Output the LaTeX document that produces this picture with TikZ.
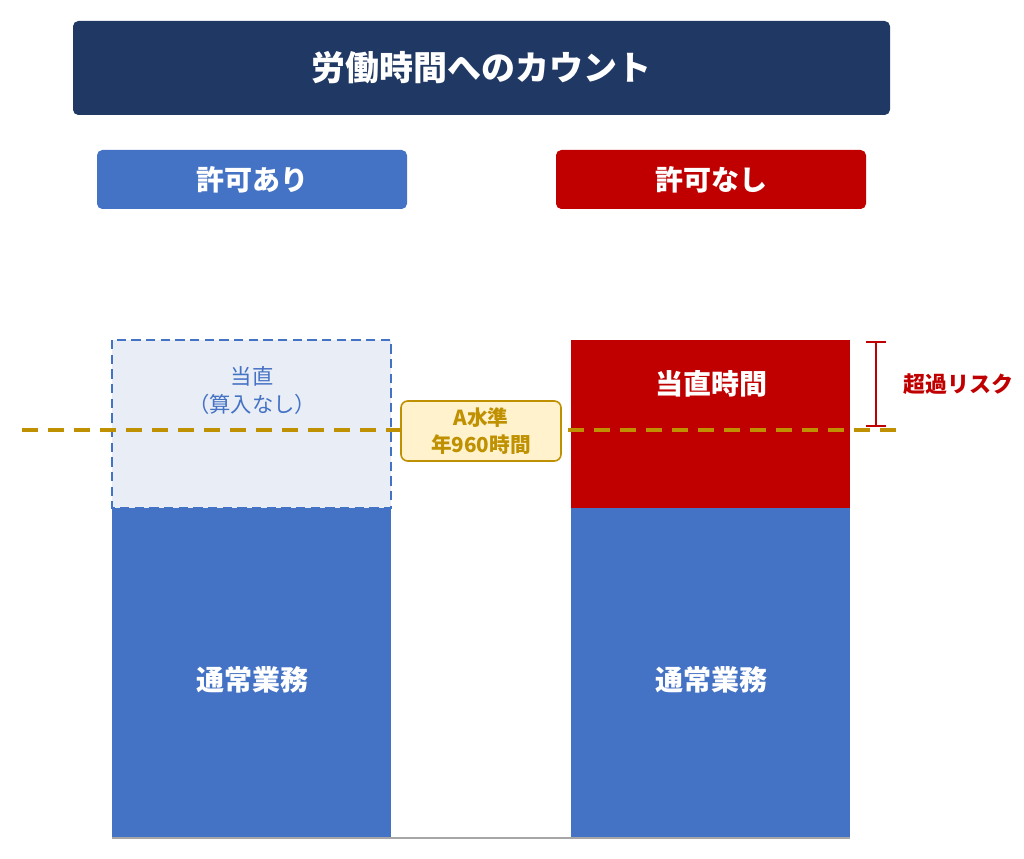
\documentclass[tikz,border=0pt]{standalone}
\usepackage{fontspec}
\setmainfont{Noto Sans CJK JP}
\definecolor{navy}{HTML}{203864}
\definecolor{cblue}{HTML}{4472C4}
\definecolor{cred}{HTML}{C00000}
\definecolor{lblue}{HTML}{E9EEF6}
\definecolor{gold}{HTML}{BF9000}
\definecolor{lgold}{HTML}{FFF2CC}
\begin{document}
\begin{tikzpicture}[x=0.75pt,y=-0.75pt,
  lbl/.style={text=white,font=\bfseries\fontsize{21}{24}\selectfont}]
\useasboundingbox (0,0) rectangle (1024,859);
\fill[navy,rounded corners=4pt] (73,21) rectangle (890,115);
\node[text=white,font=\bfseries\fontsize{25.5}{28}\selectfont] (title) at (481.5,68) {労働時間へのカウント};
\fill[cblue,rounded corners=4pt] (97,150) rectangle (407,209);
\node[lbl] (yes) at (252,180) {許可あり};
\fill[cred,rounded corners=4pt] (556,150) rectangle (866,209);
\node[lbl] (no) at (711,180) {許可なし};
% left
\fill[cblue] (112,508) rectangle (391,838);
\node[lbl] (lwork) at (252,680) {通常業務};
\draw[cblue,fill=lblue,line width=2.2pt,dash pattern=on 7pt off 4pt] (112,340) rectangle (391,508);
\node[text=cblue,font=\fontsize{16}{21}\selectfont,align=center] (lduty) at (252,391) {当直\\（算入なし）};
% right
\fill[cred] (571,340) rectangle (850,508);
\fill[cblue] (571,508) rectangle (850,838);
\node[lbl] (rduty) at (711,384) {当直時間};
\node[lbl] (rwork) at (711,680) {通常業務};
\draw[gray!70,line width=1pt] (112,838) -- (850,838);
% A line
\draw[gold,line width=3pt,dash pattern=on 12pt off 7.5pt] (22,430) -- (900,430);
\node[draw=gold,fill=lgold,rounded corners=5pt,line width=1.2pt,minimum width=120pt,minimum height=45pt,align=center,text=gold,font=\bfseries\fontsize{15.5}{20}\selectfont] (a) at (481,431) {A水準\\年960時間};
% bracket
\coordinate (bt) at (876,342);
\coordinate (bb) at (876,426);
\draw[cred,line width=2.2pt] (bt) -- (bb) (866,342) -- (886,342) (866,426) -- (886,426);
\node[text=cred,font=\bfseries\fontsize{16.5}{20}\selectfont] (risk) at (958,384) {超過リスク};
\end{tikzpicture}
\end{document}
